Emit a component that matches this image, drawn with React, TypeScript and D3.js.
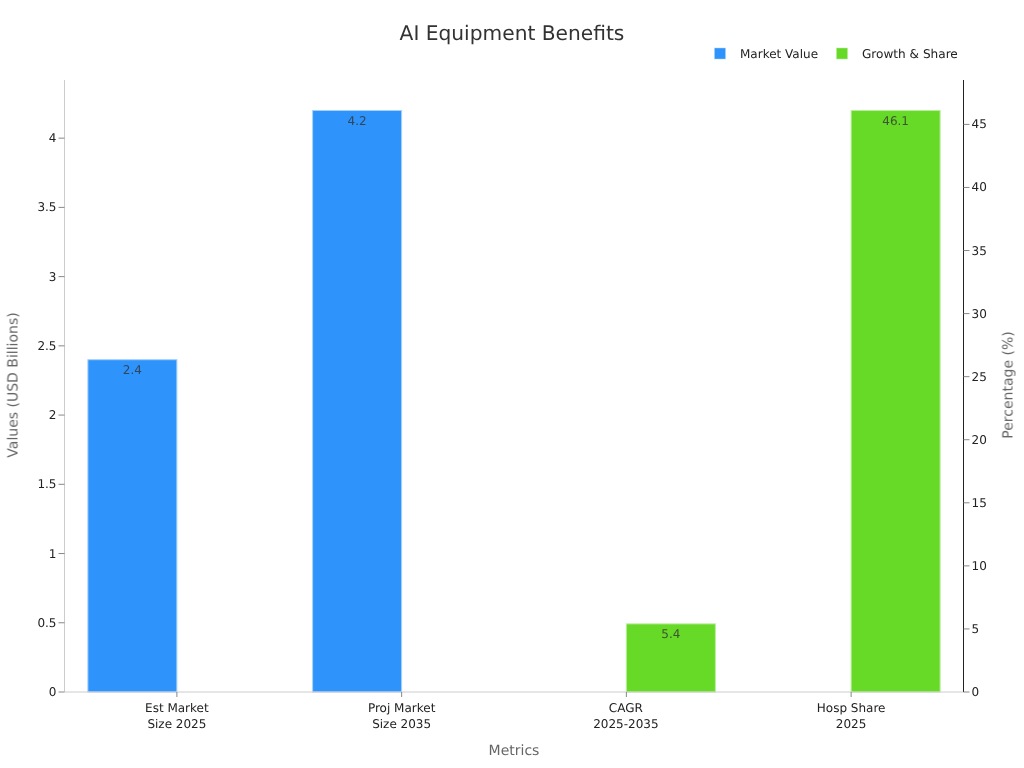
import React from "react";
import * as d3 from "d3";

const categories = ["Est Market|Size 2025", "Proj Market|Size 2035", "CAGR|2025-2035", "Hosp Share|2025"];
const marketValue: (number | null)[] = [2.4, 4.2, null, null];
const growthShare: (number | null)[] = [null, null, 5.4, 46.1];
const leftTicks = [0, 0.5, 1, 1.5, 2, 2.5, 3, 3.5, 4];
const rightTicks = [0, 5, 10, 15, 20, 25, 30, 35, 40, 45];
const leftMax = 4.42;
const rightMax = 48.52;
const BLUE = "#2e93fa";
const GREEN = "#66da26";
const FONT = "'DejaVu Sans', sans-serif";
const TXT = "#222222";
const MUTED = "#666666";

export default function App() {
  const L = 64.5, R = 963.5, T = 80, B = 692;
  const x = d3.scaleBand<number>().domain(categories.map((_, i) => i)).range([L, R]);
  const yL = d3.scaleLinear().domain([0, leftMax]).range([B, T]);
  const yR = d3.scaleLinear().domain([0, rightMax]).range([B, T]);
  const bw = x.bandwidth() * 0.396;
  const center = (i: number) => x(i)! + x.bandwidth() / 2;

  const bar = (key: string, i: number, v: number | null, x0: number, y: d3.ScaleLinear<number, number>, fill: string, stroke: string) =>
    v == null ? null : (
      <g key={key}>
        <rect x={x0} y={y(v)} width={bw} height={B - y(v)} fill={fill} stroke={stroke} strokeWidth={1} />
        <text x={x0 + bw / 2} y={y(v) + 14.5} textAnchor="middle" fontSize={12} fill="#333333" fillOpacity={0.8}>{v}</text>
      </g>
    );

  return (
    <svg width={1024} height={768} viewBox="0 0 1024 768" textRendering="geometricPrecision"
      style={{ position: "absolute", left: 0, top: 0, background: "#fff", fontFamily: FONT }}>
      <g opacity={0.999}>
        <text x={512} y={40} textAnchor="middle" fontSize={20.2} fill="#333333">AI Equipment Benefits</text>

        <rect x={714.5} y={48} width={11} height={11} fill={BLUE} stroke="#a6d2fd" strokeWidth={0.5} />
        <text x={740} y={58} fontSize={12} fill={TXT}>Market Value</text>
        <rect x={836.5} y={48} width={11} height={11} fill={GREEN} stroke="#b8ee9c" strokeWidth={0.5} />
        <text x={862} y={58} fontSize={12.1} fill={TXT}>Growth &amp; Share</text>

        {marketValue.map((v, i) => bar(`m${i}`, i, v, center(i) - bw, yL, BLUE, "#a6d2fd"))}
        {growthShare.map((v, i) => bar(`g${i}`, i, v, center(i), yR, GREEN, "#b8ee9c"))}

        <line x1={L} x2={L} y1={T} y2={B} stroke="#cccccc" />
        <line x1={L} x2={R} y1={B} y2={B} stroke="#cccccc" />
        <line x1={R} x2={R} y1={T} y2={B} stroke="#222222" />

        {leftTicks.map((t) => (
          <g key={t}>
            <line x1={L - 6} x2={L} y1={yL(t)} y2={yL(t)} stroke="#888888" />
            <text x={L - 8} y={yL(t) + 4} textAnchor="end" fontSize={12} fill={TXT}>{t}</text>
          </g>
        ))}
        {rightTicks.map((t) => (
          <g key={t}>
            <line x1={R} x2={R + 6} y1={yR(t)} y2={yR(t)} stroke="#888888" />
            <text x={R + 8} y={yR(t) + 4} fontSize={12} fill={TXT}>{t}</text>
          </g>
        ))}
        {categories.map((c, i) => (
          <g key={c}>
            <line x1={center(i)} x2={center(i)} y1={B} y2={B + 5} stroke="#888888" />
            {c.split("|").map((line, j) => (
              <text key={j} x={center(i) - (i === 2 ? 0.5 : 0)} y={712 + j * 16} textAnchor="middle" fontSize={12} fill={TXT}>{line}</text>
            ))}
          </g>
        ))}

        <text x={514} y={755} textAnchor="middle" fontSize={14} fill={MUTED}>Metrics</text>
        <text transform="translate(17.5,385) rotate(-90)" textAnchor="middle" fontSize={14} fill={MUTED}>Values (USD Billions)</text>
        <text transform="translate(1012.5,385) rotate(-90)" textAnchor="middle" fontSize={14} fill={MUTED}>Percentage (%)</text>
      </g>
    </svg>
  );
}
